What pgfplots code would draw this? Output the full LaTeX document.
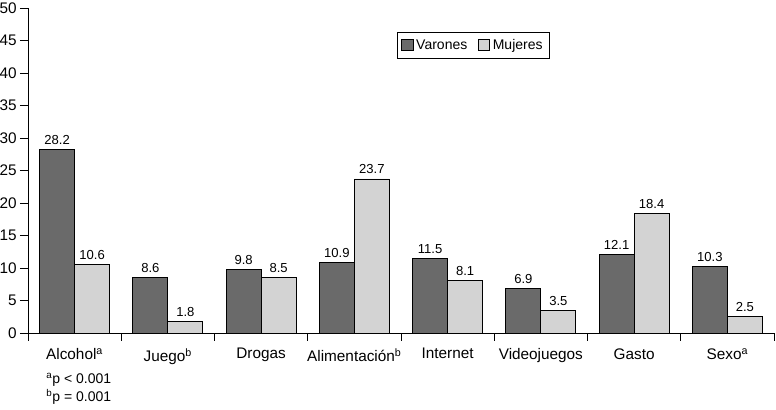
\documentclass[border=0pt]{standalone}
\usepackage{fontspec}
\setmainfont{Liberation Sans}
\usepackage{pgfplots}
\pgfplotsset{compat=1.18}
\definecolor{darkbar}{HTML}{6A6A6A}
\definecolor{lightbar}{HTML}{D3D3D3}
\begin{document}
\begin{tikzpicture}
\begin{axis}[
  scale only axis, width=559.5pt, height=243.75pt,
  xmin=0, xmax=8, ymin=0, ymax=50,
  axis lines*=left,
  axis line style={line width=0.6pt},
  ybar=0pt, bar width=26.25pt,
  xtick={0.5,1.5,...,7.5},
  xticklabels={Alcohol\textsuperscript{a}, Juego\textsuperscript{b}, Drogas, Alimentación\textsuperscript{b}, Internet, Videojuegos, Gasto, Sexo\textsuperscript{a}},
  minor xtick={0,1,...,8},
  ytick={0,5,...,50},
  tick align=outside,
  major tick length=6pt, minor tick length=6pt,
  major x tick style={draw=none},
  every tick/.style={black, line width=0.6pt},
  /pgf/number format/assume math mode=true,
  tick label style={font=\fontsize{11.5}{13}\selectfont},
  yticklabel style={xshift=1pt},
  xticklabel style={yshift=-2pt},
  nodes near coords,
  nodes near coords style={font=\fontsize{9.8}{11}\selectfont, black, /pgf/number format/.cd, fixed, fixed zerofill, precision=1, assume math mode=true},
  legend style={at={(0.597,0.885)}, anchor=center, legend columns=2, draw=black, line width=0.6pt, font=\fontsize{10.5}{12}\selectfont, inner xsep=3pt, inner ysep=3pt, /tikz/every even column/.append style={column sep=6pt}},
  legend image code/.code={\draw[#1, line width=0.6pt] (0pt,-4pt) rectangle (8.5pt,4.5pt);},
]
\addplot[fill=darkbar, draw=black, line width=0.6pt] coordinates {(0.5,28.2) (1.5,8.6) (2.5,9.8) (3.5,10.9) (4.5,11.5) (5.5,6.9) (6.5,12.1) (7.5,10.3)};
\addplot[fill=lightbar, draw=black, line width=0.6pt] coordinates {(0.5,10.6) (1.5,1.8) (2.5,8.5) (3.5,23.7) (4.5,8.1) (5.5,3.5) (6.5,18.4) (7.5,2.5)};
\legend{Varones, Mujeres}
\end{axis}
\node[anchor=west, font=\fontsize{10.5}{12}\selectfont, inner sep=0pt] at (13.5pt,-35.25pt) {\textsuperscript{a}p < 0.001};
\node[anchor=west, font=\fontsize{10.5}{12}\selectfont, inner sep=0pt] at (13.5pt,-48pt) {\textsuperscript{b}p = 0.001};
\pgfresetboundingbox
\path (-21pt,-57.75pt) rectangle (561pt,249.75pt);
\end{tikzpicture}
\end{document}
